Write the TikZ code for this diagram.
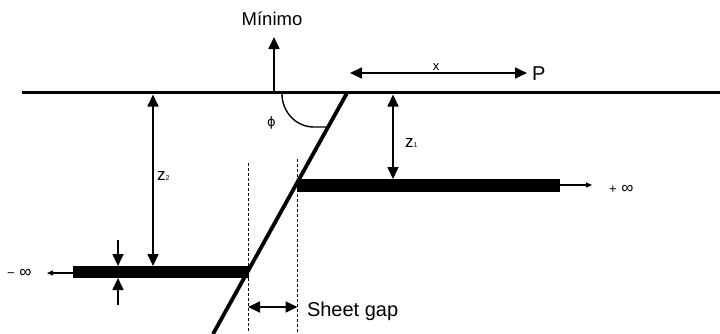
\documentclass[tikz,border=0pt]{standalone}
\usepackage{fontspec}
\setmainfont{Liberation Sans}
\newfontfamily\phifont{DejaVu Sans}
\usetikzlibrary{arrows.meta}
\tikzset{
  lbl/.style={inner sep=0pt, outer sep=0pt},
  dim/.style={line width=1.7pt, -{Triangle[length=12pt,width=11pt]}},
  ddim/.style={line width=1.7pt, {Triangle[length=12pt,width=11pt]}-{Triangle[length=12pt,width=11pt]}},
  infarr/.style={line width=1.3pt, -{Triangle[length=6pt,width=5pt]}},
  guide/.style={line width=1pt, dash pattern=on 3pt off 2pt},
  block/.style={fill=black},
}
\begin{document}
\begin{tikzpicture}[x=1pt,y=-1pt]
\useasboundingbox (0,0) rectangle (720,333);
% ground
\coordinate (G1) at (22,92.5);
\coordinate (G2) at (720,92.5);
\draw[line width=3.5pt] (G1) -- (G2);
% fault
\coordinate (F1) at (347,93);
\coordinate (F2) at (213,334);
\draw[line width=3.8pt] (F1) -- (F2);
% blocks
\coordinate (U1) at (297,179);
\coordinate (U2) at (560,192);
\fill[block] (U1) rectangle (U2);
\coordinate (L1) at (73,266);
\coordinate (L2) at (249,278);
\fill[block] (L1) rectangle (L2);
% guides
\coordinate (DL1) at (248,163);
\coordinate (DL2) at (248,333);
\coordinate (DR1) at (297.5,159);
\coordinate (DR2) at (297.5,333);
\draw[guide] (DL1) -- (DL2);
\draw[guide] (DR1) -- (DR2);
% angle
\coordinate (A1) at (282,94);
\coordinate (A2) at (314,127);
\coordinate (A3) at (328,127);
\draw[line width=1.4pt] (A1) .. controls (282,112) and (296,127) .. (A2) -- (A3);
\node[lbl, font=\phifont\fontsize{13}{13}\selectfont] (phi) at (271.5,123) {ɸ};
% Minimo
\node[lbl, anchor=base, font=\fontsize{18.5}{18.5}\selectfont] (min) at (272,25) {Mínimo};
\coordinate (M1) at (274,92);
\coordinate (M2) at (274,37);
\draw[dim] (M1) -- (M2);
% x arrow
\coordinate (X1) at (350,73);
\coordinate (X2) at (527,73);
\draw[ddim] (X1) -- (X2);
\node[lbl, anchor=base, font=\fontsize{13}{13}\selectfont] (xl) at (436,70) {x};
\node[lbl, anchor=base west, font=\fontsize{20}{20}\selectfont] (P) at (532,80) {P};
% z1
\coordinate (Z1a) at (393,94.5);
\coordinate (Z1b) at (393,179);
\draw[ddim] (Z1a) -- (Z1b);
\node[lbl, anchor=base west, font=\fontsize{17}{17}\selectfont] (z1) at (405,147) {z{\fontsize{7}{7}\selectfont 1}};
% z2
\coordinate (Z2a) at (153,94.5);
\coordinate (Z2b) at (153,266);
\draw[ddim] (Z2a) -- (Z2b);
\node[lbl, anchor=base west, font=\fontsize{17}{17}\selectfont] (z2) at (157,180) {z{\fontsize{7}{7}\selectfont 2}};
% thickness
\coordinate (T1) at (118,240);
\coordinate (T2) at (118,266);
\coordinate (T3) at (118,305);
\coordinate (T4) at (118,278);
\draw[dim] (T1) -- (T2);
\draw[dim] (T3) -- (T4);
% infinity arrows
\coordinate (I1) at (560,185);
\coordinate (I2) at (592,185);
\draw[infarr] (I1) -- (I2);
\node[lbl, anchor=west, font=\fontsize{17}{17}\selectfont] (pinf) at (609,189) {{\fontsize{13}{13}\selectfont +} ∞};
\coordinate (J1) at (73,273);
\coordinate (J2) at (47,273);
\draw[infarr] (J1) -- (J2);
\node[lbl, anchor=west, font=\fontsize{17}{17}\selectfont] (minf) at (7,273) {{\fontsize{13}{13}\selectfont −} ∞};
% sheet gap
\coordinate (S1) at (248,307);
\coordinate (S2) at (297.5,307);
\draw[ddim] (S1) -- (S2);
\node[lbl, anchor=base west, font=\fontsize{20}{20}\selectfont] (sg) at (307,316.5) {Sheet gap};
\end{tikzpicture}
\end{document}
